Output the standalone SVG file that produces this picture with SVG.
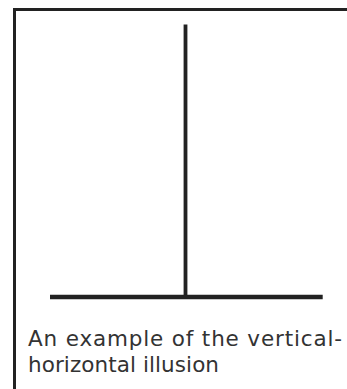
<svg xmlns="http://www.w3.org/2000/svg" width="347" height="389" viewBox="0 0 347 389">
<style>
.frame{fill:none;stroke:#222;stroke-width:3}
.ln{stroke:#222;fill:none}
.cap{font-family:"DejaVu Sans","Liberation Sans",sans-serif;font-size:21.5px;fill:#333}
</style>
<rect width="347" height="389" fill="#fff"/>
<path class="frame" d="M14.5,389 V9.5 H347"/>
<g id="connectors">
<line id="vertical" class="ln" x1="185.5" y1="24.5" x2="185.5" y2="297" stroke-width="3.8"/>
<line id="horizontal" class="ln" x1="50" y1="297" x2="322.7" y2="297" stroke-width="4.5"/>
</g>
<g id="caption">
<text class="cap" x="28" y="345.5" textLength="314" lengthAdjust="spacing">An example of the vertical-</text>
<text class="cap" x="28" y="372" textLength="191" lengthAdjust="spacing">horizontal illusion</text>
</g>
</svg>
